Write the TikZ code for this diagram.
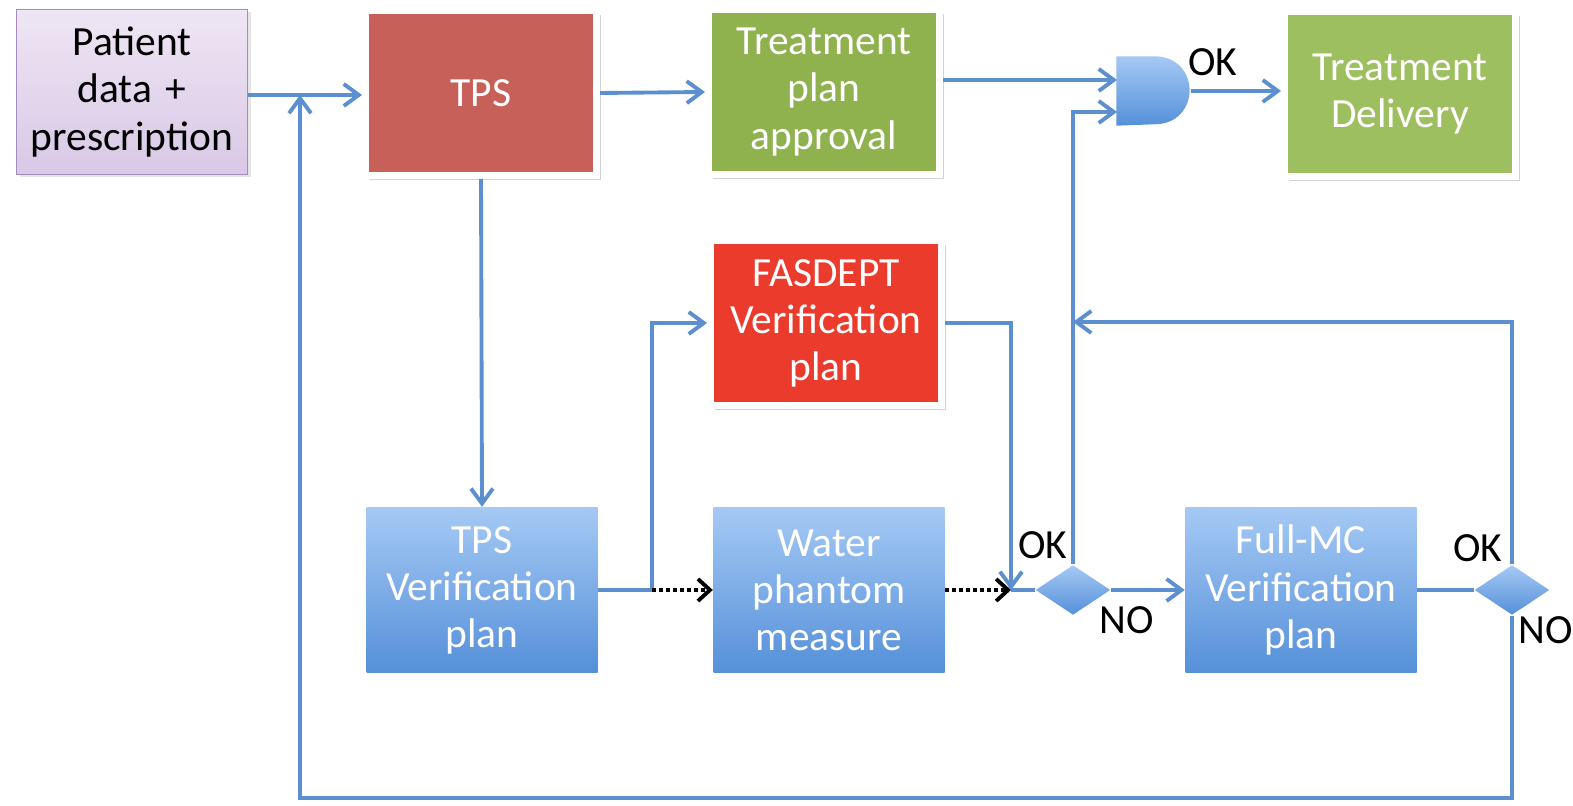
\documentclass[tikz,border=0pt]{standalone}
\usepackage{fontspec}
\setmainfont{Carlito}
\usetikzlibrary{positioning,arrows.meta,shapes.geometric,shadows}
\definecolor{wire}{HTML}{5B8FCF}
\definecolor{lilactop}{HTML}{EEE6F4}
\definecolor{lilacbot}{HTML}{D9C8E6}
\definecolor{lilacrim}{HTML}{A58CC0}
\definecolor{brick}{HTML}{C8605A}
\definecolor{olive}{HTML}{8FB14E}
\definecolor{leaf}{HTML}{9EBF5F}
\definecolor{alarm}{HTML}{EB3B2D}
\definecolor{skytop}{HTML}{A5C9F4}
\definecolor{skybot}{HTML}{5590D9}

\begin{document}
\begin{tikzpicture}[x=0.1mm,y=-0.1mm,
  box/.style={minimum width=23.1mm,minimum height=16.5mm,text width=21mm,align=center,inner sep=0pt,text=white,font=\fontsize{11.8}{13.4}\selectfont},
  rim/.style={box,draw=white,line width=0.7mm,drop shadow={opacity=0.35,shadow xshift=0.4mm,shadow yshift=-0.5mm}},
  blu/.style={box,top color=skytop,bottom color=skybot},
  dia/.style={diamond,top color=skytop,bottom color=skybot,minimum width=7.5mm,minimum height=5mm,inner sep=0pt},
  lbl/.style={font=\fontsize{11.8}{13.4}\selectfont,inner sep=0pt},
  w/.style={wire,line width=1.1pt,-{Straight Barb[length=1.5mm,width=2.2mm]}},
  l/.style={wire,line width=1.1pt},
  dot/.style={black,line width=1pt,densely dotted,-{Straight Barb[length=1.2mm,width=2.2mm,line width=1.1pt]}}]
\useasboundingbox (0,0) rectangle (1573,806);
\fill[white] (0,0) rectangle (1573,806);

\node[box,text=black,top color=lilactop,bottom color=lilacbot,draw=lilacrim,line width=0.4pt,drop shadow={opacity=0.2,shadow xshift=0.3mm,shadow yshift=-0.3mm}] (pat) at (132,92) {Patient\\data +\\prescription};
\node[rim,fill=brick] (tps) at (481,93) {TPS};
\node[rim,fill=olive] (appr) at (824,92) {Treatment\\plan\\approval};
\node[rim,fill=leaf] (dlv) at (1400,94) {Treatment\\Delivery};
\node[rim,fill=alarm] (fas) at (826,323) {FASDEPT\\Verification\\plan};
\node[blu] (tpsv) at (482,590) {TPS\\Verification\\plan};
\node[blu] (wat) at (829,590) {Water\\phantom\\measure};
\node[blu] (fmc) at (1301,590) {Full-MC\\Verification\\plan};
\node[dia] (d1) at (1073,590) {};
\node[dia] (d2) at (1512,590) {};

\node[minimum width=7.3mm,minimum height=6.8mm,inner sep=0pt] (gate) at (1153.5,91) {};
\shade[top color=skytop,bottom color=skybot] (gate.north west) -- ++(38,0) .. controls +(47,0) and +(47,0) .. ++(0,68) -- (gate.south west) -- cycle;

\coordinate (jn) at (300,95);
\coordinate (gin1) at (1117,80);
\coordinate (gin2) at (1117,112);
\coordinate (sp) at (652,590);
\coordinate (j1) at (1011,590);
\coordinate (m2) at (1073,322);
\coordinate (bt) at (300,798);

\draw[w] (pat.east |- jn) -- (tps.west |- jn);
\draw[w] (tps.east) -- (appr.west);
\draw[w] (appr.east |- gin1) -- (gin1);
\draw[w] (gate.east) -- (gate.east -| dlv.west);
\draw[w] (tps.south) -- (tpsv.north);
\draw[w] (tpsv.east) -- (sp) |- (fas.west);
\draw[dot] (sp) -- (wat.west);
\draw[dot] (wat.east) -- (j1);
\draw[w] (fas.east) -| (j1);
\draw[l] (j1) -- (d1.west);
\draw[w] (d1.east) -- (fmc.west);
\draw[w] (d1.north) |- (gin2);
\draw[l] (fmc.east) -- (d2.west);
\draw[w] (d2.north) |- (m2);
\draw[w] (d2.south) |- (bt) -- (jn);

\node[lbl] (ok0) at (1213,62) {OK};
\node[lbl] (ok1) at (1043,545) {OK};
\node[lbl] (no1) at (1127,620) {NO};
\node[lbl] (ok2) at (1478,548) {OK};
\node[lbl] (no2) at (1546,630) {NO};
\end{tikzpicture}
\end{document}
